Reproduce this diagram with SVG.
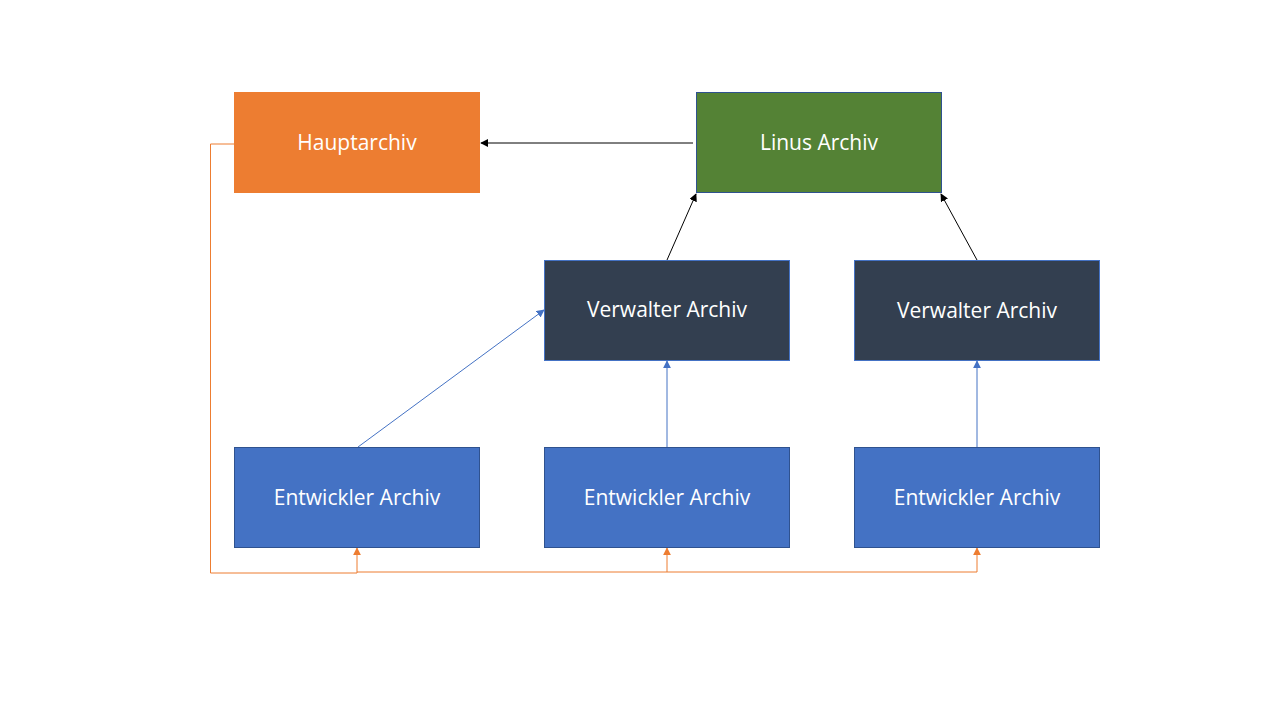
<svg xmlns="http://www.w3.org/2000/svg" width="1280" height="720" viewBox="0 0 1280 720">
<style>
text{font-family:"Open Sans","Noto Sans","Liberation Sans",sans-serif;font-size:21px;fill:#fff;text-anchor:middle;dominant-baseline:central}
.ent{fill:#4472c4;stroke:#2f528f;stroke-width:1}
.ver{fill:#333f50;stroke:#4472c4;stroke-width:1}
.k{fill:none;stroke:#000;stroke-width:1}
.b{fill:none;stroke:#4472c4;stroke-width:1}
.o{fill:none;stroke:#ed7d31;stroke-width:1}
</style>
<defs>
<marker id="ak" viewBox="0 0 10 10" refX="9" refY="5" markerWidth="8" markerHeight="8" markerUnits="userSpaceOnUse" orient="auto"><path d="M0,0L10,5L0,10z" fill="#000"/></marker>
<marker id="ab" viewBox="0 0 10 10" refX="9" refY="5" markerWidth="8" markerHeight="8" markerUnits="userSpaceOnUse" orient="auto"><path d="M0,0L10,5L0,10z" fill="#4472c4"/></marker>
<marker id="ao" viewBox="0 0 10 10" refX="9" refY="5" markerWidth="8" markerHeight="8" markerUnits="userSpaceOnUse" orient="auto"><path d="M0,0L10,5L0,10z" fill="#ed7d31"/></marker>
</defs>
<rect width="1280" height="720" fill="#fff"/>
<g id="connectors">
<line class="k" x1="693" y1="143" x2="481" y2="143" marker-end="url(#ak)"/>
<line class="k" x1="667" y1="260" x2="696" y2="194" marker-end="url(#ak)"/>
<line class="k" x1="977" y1="260" x2="941" y2="194" marker-end="url(#ak)"/>
<line class="b" x1="358" y1="447" x2="544" y2="310" marker-end="url(#ab)"/>
<line class="b" x1="667" y1="447" x2="667" y2="361" marker-end="url(#ab)"/>
<line class="b" x1="977" y1="447" x2="977" y2="361" marker-end="url(#ab)"/>
<polyline class="o" points="234,144 210.5,144 210.5,573 357,573 357,548" marker-end="url(#ao)"/>
<polyline class="o" points="357,572 667,572 667,548" marker-end="url(#ao)"/>
<polyline class="o" points="667,572 977,572 977,548" marker-end="url(#ao)"/>
</g>
<g id="hauptarchiv"><rect x="234" y="92" width="246" height="101" fill="#ed7d31"/><text x="357" y="142">Hauptarchiv</text></g>
<g id="linus"><rect x="696.5" y="92.5" width="245" height="100" fill="#548235" stroke="#2f528f"/><text x="819" y="142">Linus Archiv</text></g>
<g id="verwalter1"><rect class="ver" x="544.5" y="260.5" width="245" height="100"/><text x="667" y="309">Verwalter Archiv</text></g>
<g id="verwalter2"><rect class="ver" x="854.5" y="260.5" width="245" height="100"/><text x="977" y="310">Verwalter Archiv</text></g>
<g id="entwickler1"><rect class="ent" x="234.5" y="447.5" width="245" height="100"/><text x="357" y="497">Entwickler Archiv</text></g>
<g id="entwickler2"><rect class="ent" x="544.5" y="447.5" width="245" height="100"/><text x="667" y="497">Entwickler Archiv</text></g>
<g id="entwickler3"><rect class="ent" x="854.5" y="447.5" width="245" height="100"/><text x="977" y="497">Entwickler Archiv</text></g>
</svg>
